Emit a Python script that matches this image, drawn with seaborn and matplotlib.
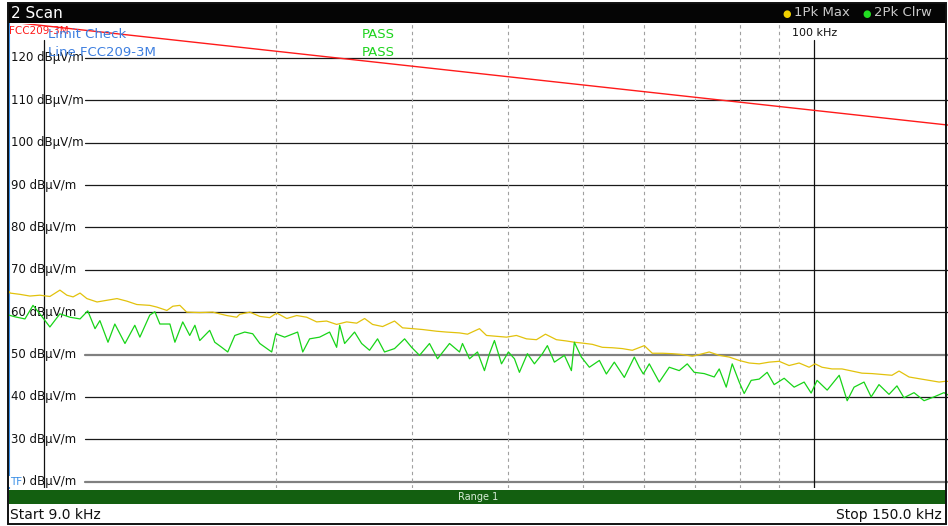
import matplotlib
matplotlib.use('Agg')
import matplotlib.pyplot as plt
import matplotlib.transforms as mtransforms
from matplotlib.patches import Rectangle
import seaborn as sns

# values
# trace 1: 1Pk Max (yellow)
max_freq_khz = [9.0, 9.03, 9.30, 9.58, 9.87, 10.17, 10.48, 10.70, 10.90, 11.13, 11.36, 11.71,
                12.06, 12.43, 12.80, 13.19, 13.71, 14.00, 14.43, 14.69, 15.00, 15.31, 15.92, 16.55,
                17.26, 17.78, 17.94, 18.49, 19.05, 19.62, 20.04, 20.65, 21.27, 21.92, 22.58, 23.26,
                23.97, 24.70, 25.45, 26.06, 26.69, 27.50, 28.50, 29.19, 30.08, 30.99, 32.31, 33.29,
                34.61, 35.45, 36.74, 37.52, 38.65, 39.83, 41.03, 42.28, 43.56, 44.75, 46.24, 47.64,
                48.79, 49.97, 51.49, 53.05, 54.66, 56.31, 58.02, 60.14, 61.59, 63.46, 65.38, 67.37,
                69.41, 70.24, 73.02, 75.24, 77.52, 79.87, 82.29, 84.78, 87.35, 90.0, 92.72, 95.54,
                98.44, 100.2, 102.3, 105.4, 108.6, 111.9, 115.3, 118.8, 122.4, 126.1, 128.8, 132.7,
                136.7, 140.9, 145.2, 148.2, 150.0]
max_level = [64.9, 64.5, 64.2, 63.8, 64.0, 63.7, 65.2, 64.0, 63.6, 64.5, 63.2, 62.4,
             62.8, 63.2, 62.6, 61.8, 61.6, 61.2, 60.4, 61.4, 61.6, 60.0, 59.9, 60.0,
             59.2, 58.8, 59.5, 60.0, 59.0, 58.7, 59.8, 58.5, 59.2, 58.8, 57.7, 57.9,
             57.1, 57.7, 57.4, 58.5, 57.1, 56.6, 57.9, 56.3, 56.1, 55.9, 55.5, 55.3,
             55.1, 54.8, 56.1, 54.5, 54.3, 54.1, 54.5, 53.7, 53.5, 54.8, 53.5, 53.2,
             52.9, 52.7, 52.4, 51.7, 51.6, 51.4, 51.0, 52.1, 50.3, 50.3, 50.2, 50.0,
             49.6, 49.8, 50.6, 49.8, 49.4, 48.6, 48.0, 47.8, 48.2, 48.4, 47.4, 48.0,
             47.0, 47.8, 47.0, 46.6, 46.6, 46.1, 45.6, 45.5, 45.3, 45.1, 46.1, 44.7,
             44.3, 43.9, 43.5, 43.7, 43.6]

# trace 2: 2Pk Clrw (green)
clrw_freq_khz = [9.0, 9.16, 9.44, 9.67, 9.87, 10.17, 10.48, 10.80, 11.13, 11.39, 11.64, 11.81,
                 12.10, 12.35, 12.73, 13.11, 13.31, 13.71, 13.92, 14.13, 14.56, 14.78, 15.13, 15.45,
                 15.69, 15.92, 16.40, 16.65, 17.00, 17.31, 17.68, 18.21, 18.65, 19.05, 19.74, 19.98,
                 20.52, 21.33, 21.66, 22.11, 22.78, 23.47, 23.97, 24.19, 24.55, 25.29, 25.83, 26.45,
                 27.09, 27.66, 28.50, 29.37, 29.99, 30.71, 31.64, 32.41, 33.59, 34.61, 34.92, 35.66,
                 36.52, 37.29, 37.85, 38.42, 39.24, 40.06, 40.79, 41.40, 42.40, 43.30, 44.35, 45.01,
                 45.96, 47.36, 48.36, 48.79, 49.82, 51.03, 52.58, 53.69, 54.98, 56.65, 58.37, 59.25,
                 59.96, 61.04, 62.89, 64.80, 66.76, 68.38, 69.82, 71.94, 74.12, 75.24, 76.83, 78.22,
                 79.87, 81.07, 82.78, 84.78, 86.83, 88.67, 91.36, 94.13, 96.98, 99.03, 100.8, 103.9,
                 107.7, 110.3, 112.6, 116.0, 118.5, 121.3, 125.0, 128.0, 130.7, 134.7, 138.8, 143.0,
                 147.3, 150.0]
clrw_level = [59.3, 58.9, 58.4, 61.6, 59.6, 56.5, 59.6, 58.8, 58.4, 60.3, 56.1, 58.0,
              52.9, 57.2, 52.6, 56.9, 54.1, 59.3, 60.1, 57.2, 57.2, 52.9, 57.7, 54.5,
              56.9, 53.3, 55.7, 52.9, 51.7, 50.6, 54.5, 55.3, 54.9, 52.6, 50.6, 54.9,
              54.1, 55.3, 50.6, 53.7, 54.1, 55.3, 51.7, 56.9, 52.6, 55.3, 52.6, 51.0,
              53.7, 50.6, 51.4, 53.7, 51.7, 49.8, 52.6, 49.0, 52.6, 50.6, 52.6, 49.0,
              50.6, 46.2, 50.2, 53.3, 47.8, 50.6, 49.0, 45.8, 50.2, 47.8, 50.2, 52.1,
              48.2, 49.8, 46.2, 52.9, 49.4, 47.0, 48.6, 45.4, 48.2, 44.6, 49.4, 47.0,
              45.4, 47.8, 43.5, 47.0, 46.2, 47.8, 45.8, 45.5, 44.7, 46.6, 42.3, 47.8,
              43.5, 40.8, 43.9, 44.2, 45.8, 42.9, 44.4, 42.3, 43.5, 40.9, 43.9, 41.6,
              45.1, 39.1, 42.3, 43.5, 40.0, 42.9, 40.6, 42.6, 39.8, 41.0, 39.1, 40.0,
              41.0, 40.2]

# limit line FCC209-3M
limit_freq_khz = [9.0, 150.0]
limit_level = [128.5, 104.1]

grid_levels = [120, 110, 100, 90, 80, 70, 60, 50, 40, 30, 20]
thick_levels = [50, 20]
dashed_freqs = [20, 30, 40, 50, 60, 70, 80, 90]
decade_freqs = [10, 100]

W, H = 948, 526
AX_TOP, AX_BOTTOM = 24, 488


def fx(px):
    return px / W


def fy(py):
    return 1 - py / H


def ay(py):
    # pixel row -> axes fraction
    return 1 - (py - AX_TOP) / (AX_BOTTOM - AX_TOP)


sns.set_style('white')
plt.rcParams['font.family'] = ['DejaVu Sans']

fig = plt.figure(figsize=(W / 100, H / 100), dpi=100)
ax = fig.add_axes([fx(9), fy(AX_BOTTOM), (950 - 9) / W, (AX_BOTTOM - AX_TOP) / H])

# grid
ylab = mtransforms.blended_transform_factory(ax.transAxes, ax.transData)
for lvl in grid_levels:
    if lvl in thick_levels:
        ax.axhline(lvl, xmin=0.081, xmax=1, color='#808080', lw=1.6, zorder=1)
    else:
        ax.axhline(lvl, xmin=0.081, xmax=1, color='#1a1a1a', lw=0.9, zorder=1)
    ax.text(0.002, lvl, f'{lvl} dBµV/m', transform=ylab, va='center', ha='left',
            fontsize=8.5, color='#111111', zorder=2)
for f in dashed_freqs:
    ax.axvline(f, color='#a0a0a0', lw=0.8, ls=(0, (3, 3)), zorder=1)
for f in decade_freqs:
    ax.axvline(f, ymax=ay(40), color='#111111', lw=0.9, zorder=1)

# traces
sns.lineplot(x=limit_freq_khz, y=limit_level, ax=ax, color='#ff1a1a', lw=1.0, zorder=3)
sns.lineplot(x=max_freq_khz, y=max_level, ax=ax, color='#e2c20c', lw=0.9, zorder=4)
sns.lineplot(x=clrw_freq_khz, y=clrw_level, ax=ax, color='#18d418', lw=0.9, zorder=5)

ax.set_xscale('log')
ax.set_xlim(9, 150)
ax.set_ylim(18.5, 128)
ax.set_xticks([])
ax.set_yticks([])
ax.minorticks_off()
ax.set_xlabel('')
ax.set_ylabel('')
for side in ['top', 'right', 'bottom']:
    ax.spines[side].set_visible(False)
ax.spines['left'].set_color('#3a8ee6')
ax.spines['left'].set_linewidth(1.5)

# in-plot annotations
ax.text(100, ay(33), '100 kHz', transform=mtransforms.blended_transform_factory(ax.transData, ax.transAxes),
        ha='center', va='center', fontsize=8, color='#111111', zorder=6)
ax.text(0.0, ay(31), 'FCC209-3M', transform=ax.transAxes, ha='left', va='center',
        fontsize=7.5, color='#ff1a1a', zorder=6)
ax.text(0.0415, ay(34), 'Limit Check', transform=ax.transAxes, ha='left', va='center',
        fontsize=9.5, color='#3d7fe0', zorder=7)
ax.text(0.0415, ay(53), 'Line FCC209-3M', transform=ax.transAxes, ha='left', va='center',
        fontsize=9.5, color='#3d7fe0', zorder=7)
ax.text(0.375, ay(34), 'PASS', transform=ax.transAxes, ha='left', va='center',
        fontsize=9.5, color='#1ed41e', zorder=7)
ax.text(0.375, ay(53), 'PASS', transform=ax.transAxes, ha='left', va='center',
        fontsize=9.5, color='#1ed41e', zorder=7)
ax.text(0.001, 20, 'TF', transform=ylab, ha='left', va='center', fontsize=7.5,
        color='#3a8ee6', zorder=8,
        bbox=dict(boxstyle='square,pad=0.05', fc='white', ec='none'))

# header bar
fig.add_artist(Rectangle((fx(8), fy(23)), 938 / W, 20 / H, transform=fig.transFigure,
                         fc='#050505', ec='none', zorder=5))
fig.text(fx(11), fy(13), '2 Scan', color='white', fontsize=11, va='center', ha='left', zorder=6)
fig.text(fx(787), fy(13.5), '●', color='#f0d000', fontsize=7, va='center', ha='center', zorder=6)
fig.text(fx(794), fy(13), '1Pk Max', color='#c8c8c8', fontsize=9.5, va='center', ha='left', zorder=6)
fig.text(fx(867), fy(13.5), '●', color='#22dd22', fontsize=7, va='center', ha='center', zorder=6)
fig.text(fx(874), fy(13), '2Pk Clrw', color='#c8c8c8', fontsize=9.5, va='center', ha='left', zorder=6)

# range bar and sweep limits
fig.add_artist(Rectangle((fx(9), fy(504)), 937 / W, 14 / H, transform=fig.transFigure,
                         fc='#135f10', ec='none', zorder=5))
fig.text(fx(478), fy(497), 'Range 1', color='#d8ecd8', fontsize=7, va='center', ha='center', zorder=6)
fig.text(fx(10), fy(515), 'Start 9.0 kHz', color='#111111', fontsize=10, va='center', ha='left', zorder=6)
fig.text(fx(942), fy(515), 'Stop 150.0 kHz', color='#111111', fontsize=10, va='center', ha='right', zorder=6)

# outer frame
fig.add_artist(Rectangle((fx(8), fy(524)), 938 / W, 521 / H, transform=fig.transFigure,
                         fill=False, ec='#111111', lw=1.4, zorder=7))

fig.savefig('out.png', dpi=100)
